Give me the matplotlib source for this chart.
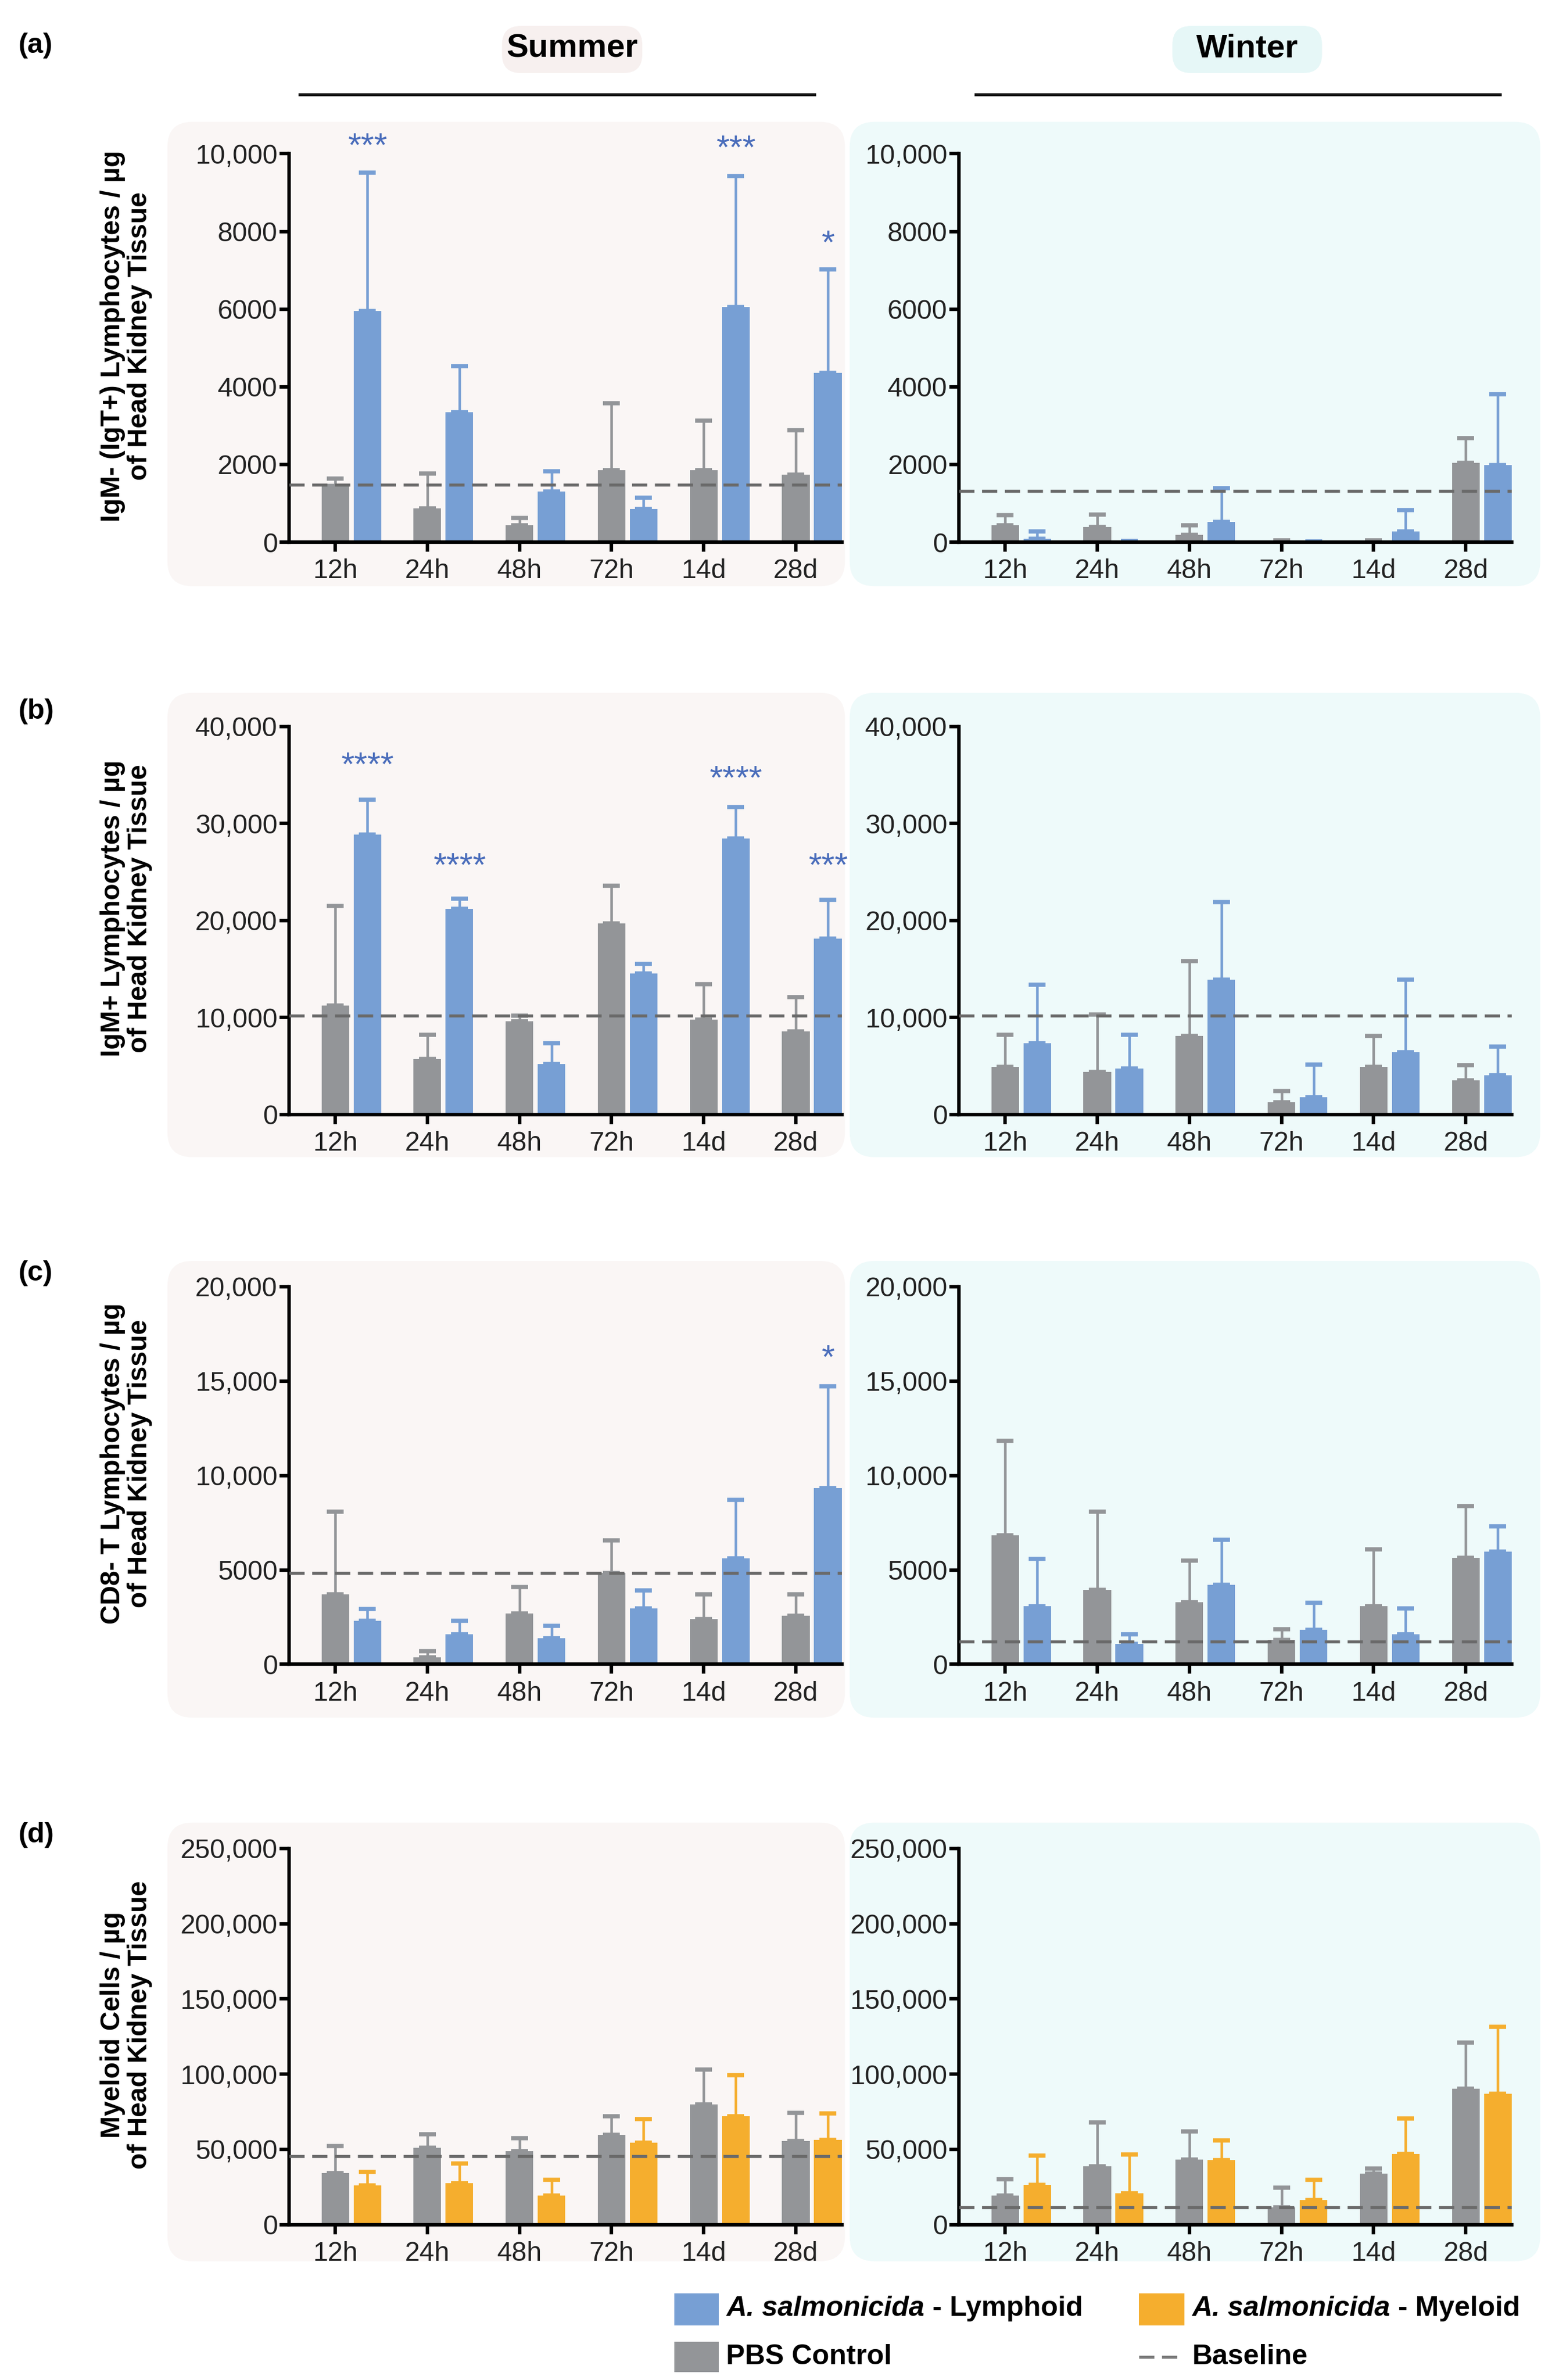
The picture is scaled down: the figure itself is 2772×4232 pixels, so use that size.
import matplotlib.pyplot as plt
from matplotlib.patches import FancyBboxPatch, Rectangle
from matplotlib.lines import Line2D
from matplotlib.ticker import FuncFormatter

plt.rcParams['font.family'] = ['Liberation Sans', 'DejaVu Sans']

times = ["12h", "24h", "48h", "72h", "14d", "28d"]

# (a) IgM- (IgT+) lymphocytes
a_sum_pbs = [1450, 870, 440, 1860, 1860, 1740]
a_sum_pbs_top = [1630, 1770, 630, 3570, 3130, 2880]
a_sum_as = [5950, 3350, 1300, 850, 6050, 4360]
a_sum_as_top = [9520, 4530, 1820, 1140, 9420, 7020]
a_sum_base = 1480
a_win_pbs = [440, 390, 190, 40, 50, 2040]
a_win_pbs_top = [690, 710, 440, 40, 50, 2680]
a_win_as = [90, 30, 520, 20, 270, 1980]
a_win_as_top = [280, 30, 1390, 20, 830, 3810]
a_win_base = 1320
a_sum_stars = ["***", "", "", "", "***", "*"]
a_sum_star_y = [10350, 0, 0, 0, 10300, 7850]

# (b) IgM+ lymphocytes
b_sum_pbs = [11250, 5700, 9600, 19700, 9800, 8550]
b_sum_pbs_top = [21500, 8200, 10200, 23550, 13450, 12100]
b_sum_as = [28850, 21200, 5200, 14550, 28450, 18150]
b_sum_as_top = [32450, 22250, 7350, 15500, 31700, 22150]
b_sum_base = 10200
b_win_pbs = [4900, 4400, 8100, 1250, 4900, 3500]
b_win_pbs_top = [8200, 10300, 15800, 2400, 8100, 5100]
b_win_as = [7350, 4750, 13900, 1800, 6450, 4050]
b_win_as_top = [13400, 8200, 21900, 5150, 13900, 7000]
b_win_base = 10200
b_sum_stars = ["****", "****", "", "", "****", "***"]
b_sum_star_y = [36600, 26250, 0, 0, 35200, 26250]

# (c) CD8- T lymphocytes
c_sum_pbs = [3700, 360, 2700, 4850, 2400, 2580]
c_sum_pbs_top = [8070, 690, 4080, 6550, 3700, 3700]
c_sum_as = [2320, 1600, 1390, 2970, 5620, 9340]
c_sum_as_top = [2930, 2320, 2040, 3910, 8720, 14720]
c_sum_base = 4840
c_win_pbs = [6820, 3940, 3290, 1290, 3090, 5650]
c_win_pbs_top = [11830, 8090, 5480, 1860, 6090, 8370]
c_win_as = [3080, 1090, 4220, 1820, 1580, 5970]
c_win_as_top = [5570, 1580, 6590, 3260, 2960, 7310]
c_win_base = 1200
c_sum_stars = ["", "", "", "", "", "*"]
c_sum_star_y = [0, 0, 0, 0, 0, 16550]

# (d) Myeloid cells
d_sum_pbs = [34400, 51100, 48900, 59600, 79800, 55600]
d_sum_pbs_top = [52100, 60000, 57600, 72200, 103100, 74400]
d_sum_as = [25900, 27700, 19200, 54600, 72200, 56200]
d_sum_as_top = [35000, 40800, 29700, 70300, 99400, 73800]
d_sum_base = 45500
d_win_pbs = [19400, 38600, 43300, 11400, 33800, 90300]
d_win_pbs_top = [30000, 67900, 61800, 24700, 37100, 121100]
d_win_as = [26600, 20900, 42800, 16200, 47100, 86900]
d_win_as_top = [46000, 46600, 56100, 29800, 70700, 131600]
d_win_base = 11400

GRAY = '#939598'
BLUE = '#779fd4'
ORANGE = '#f5ae2e'
STAR = '#4a6dbb'
DASH = '#6a6a6a'
SUM_BG = '#faf6f5'
WIN_BG = '#eefafa'

W, H = 2772, 4232
fig = plt.figure(figsize=(W / 300, H / 300), dpi=300)
fig.patch.set_facecolor('white')
asp = W / H


def fmt(v, pos):
    return f"{v:,.0f}" if v >= 10000 else f"{v:.0f}"


def draw(ax, pbs, pbs_top, inf, inf_top, base, color, ymax, step,
         stars=None, star_y=None):
    xg = [i for i in range(len(times))]
    xb = [i + 0.348 for i in range(len(times))]
    ax.bar(xg, pbs, width=0.3, color=GRAY, zorder=2)
    ax.bar(xb, inf, width=0.3, color=color, zorder=2)
    ax.errorbar(xg, pbs, yerr=[[0] * 6, [t - m for t, m in zip(pbs_top, pbs)]],
                fmt='none', ecolor=GRAY, elinewidth=1.1, capsize=3.5,
                capthick=1.8, zorder=1)
    ax.errorbar(xb, inf, yerr=[[0] * 6, [t - m for t, m in zip(inf_top, inf)]],
                fmt='none', ecolor=color, elinewidth=1.1, capsize=3.5,
                capthick=1.8, zorder=1)
    ax.axhline(base, color=DASH, lw=1.3, ls=(0, (5, 2.5)), zorder=3)
    if stars:
        for x, s, y in zip(xb, stars, star_y):
            if s:
                ax.annotate(s, (x, y), xytext=(0, -3), textcoords='offset points',
                            color=STAR, fontsize=14.5, ha='center',
                            va='center', annotation_clip=False)
    ax.set_xlim(-0.5, 5.5)
    ax.set_ylim(0, ymax)
    ax.set_yticks(range(0, ymax + 1, step))
    ax.yaxis.set_major_formatter(FuncFormatter(fmt))
    ax.set_xticks(xg)
    ax.set_xticklabels(times)
    ax.set_facecolor('none')
    for s in ['top', 'right']:
        ax.spines[s].set_visible(False)
    for s in ['left', 'bottom']:
        ax.spines[s].set_linewidth(1.5)
    ax.tick_params(axis='y', length=4, width=1.5, pad=1, labelsize=11.5,
                   labelcolor='#222222')
    ax.tick_params(axis='x', length=4, width=1.5, pad=3, labelsize=11.5,
                   labelcolor='#222222')


rows = [
    # bottom, height, bg bottom, bg top, letter y
    (0.7722, 0.1632, 0.7537, 0.9488, 0.9808),
    (0.5317, 0.1631, 0.5138, 0.7089, 0.7012),
    (0.3007, 0.1587, 0.2783, 0.4702, 0.4651),
    (0.0653, 0.1580, 0.0499, 0.2342, 0.2290),
]
letters = ["(a)", "(b)", "(c)", "(d)"]
ylabels = [
    "IgM- (IgT+) Lymphocytes / µg\nof Head Kidney Tissue",
    "IgM+ Lymphocytes / µg\nof Head Kidney Tissue",
    "CD8- T Lymphocytes / µg\nof Head Kidney Tissue",
    "Myeloid Cells / µg\nof Head Kidney Tissue",
]
panels = [
    (a_sum_pbs, a_sum_pbs_top, a_sum_as, a_sum_as_top, a_sum_base,
     a_win_pbs, a_win_pbs_top, a_win_as, a_win_as_top, a_win_base,
     BLUE, 10000, 2000, a_sum_stars, a_sum_star_y),
    (b_sum_pbs, b_sum_pbs_top, b_sum_as, b_sum_as_top, b_sum_base,
     b_win_pbs, b_win_pbs_top, b_win_as, b_win_as_top, b_win_base,
     BLUE, 40000, 10000, b_sum_stars, b_sum_star_y),
    (c_sum_pbs, c_sum_pbs_top, c_sum_as, c_sum_as_top, c_sum_base,
     c_win_pbs, c_win_pbs_top, c_win_as, c_win_as_top, c_win_base,
     BLUE, 20000, 5000, c_sum_stars, c_sum_star_y),
    (d_sum_pbs, d_sum_pbs_top, d_sum_as, d_sum_as_top, d_sum_base,
     d_win_pbs, d_win_pbs_top, d_win_as, d_win_as_top, d_win_base,
     ORANGE, 250000, 50000, None, None),
]

for (bot, h, bg0, bg1, ly), p, letter, ylab in zip(rows, panels, letters, ylabels):
    # rounded panel backgrounds
    for x0, x1, c in [(0.1074, 0.542, SUM_BG), (0.545, 0.988, WIN_BG)]:
        fig.patches.append(FancyBboxPatch(
            (x0, bg0), x1 - x0, bg1 - bg0,
            boxstyle="round,pad=0,rounding_size=0.016", mutation_aspect=asp,
            transform=fig.transFigure, facecolor=c, edgecolor='none', zorder=-5))
    ax1 = fig.add_axes([0.1855, bot, 0.3545, h])
    ax2 = fig.add_axes([0.6152, bot, 0.3545, h])
    draw(ax1, p[0], p[1], p[2], p[3], p[4], p[10], p[11], p[12], p[13], p[14])
    draw(ax2, p[5], p[6], p[7], p[8], p[9], p[10], p[11], p[12])
    fig.text(0.0117, ly, letter, fontsize=12, fontweight='bold', ha='left',
             va='center')
    fig.text(0.081, bot + h / 2 + 0.005, ylab, rotation=90, fontsize=11.5,
             fontweight='bold', ha='center', va='center',
             multialignment='center', linespacing=1.1)

# season headers
for x0, x1, cx, name, c, lx0, lx1 in [
        (0.322, 0.412, 0.367, "Summer", '#f7f0ef', 0.1924, 0.5225),
        (0.752, 0.848, 0.800, "Winter", '#e6f7f7', 0.626, 0.962)]:
    fig.patches.append(FancyBboxPatch(
        (x0, 0.9693), x1 - x0, 0.0198,
        boxstyle="round,pad=0,rounding_size=0.012", mutation_aspect=asp,
        transform=fig.transFigure, facecolor=c, edgecolor='none', zorder=-5))
    fig.text(cx, 0.9795, name, fontsize=14, fontweight='bold', ha='center',
             va='center')
    fig.add_artist(Line2D([lx0, lx1], [0.9603, 0.9603], color='#111111',
                          lw=1.3, transform=fig.transFigure))

# legend
renderer = fig.canvas.get_renderer()
fig.patches.append(Rectangle((0.4326, 0.0230), 0.0283, 0.0134, facecolor=BLUE,
                             transform=fig.transFigure))
fig.patches.append(Rectangle((0.7305, 0.0230), 0.0293, 0.0134, facecolor=ORANGE,
                             transform=fig.transFigure))
fig.patches.append(Rectangle((0.4326, 0.0032), 0.0283, 0.0128, facecolor=GRAY,
                             transform=fig.transFigure))
fig.add_artist(Line2D([0.7305, 0.7598], [0.0096, 0.0096], color='#7a7a7a',
                      lw=1.3, ls=(0, (5, 2.5)), transform=fig.transFigure))

for tx, rest in [(0.4658, " - Lymphoid"), (0.7646, " - Myeloid")]:
    t = fig.text(tx, 0.030, "A. salmonicida", fontsize=12, fontweight='bold',
                 style='italic', ha='left', va='center')
    bb = t.get_window_extent(renderer)
    fig.text(bb.x1 / fig.bbox.width, 0.030, rest, fontsize=12,
             fontweight='bold', ha='left', va='center')
fig.text(0.4658, 0.0096, "PBS Control", fontsize=12, fontweight='bold',
         ha='left', va='center')
fig.text(0.7646, 0.0096, "Baseline", fontsize=12, fontweight='bold',
         ha='left', va='center')

fig.savefig("out.png", dpi=300, facecolor='white')
